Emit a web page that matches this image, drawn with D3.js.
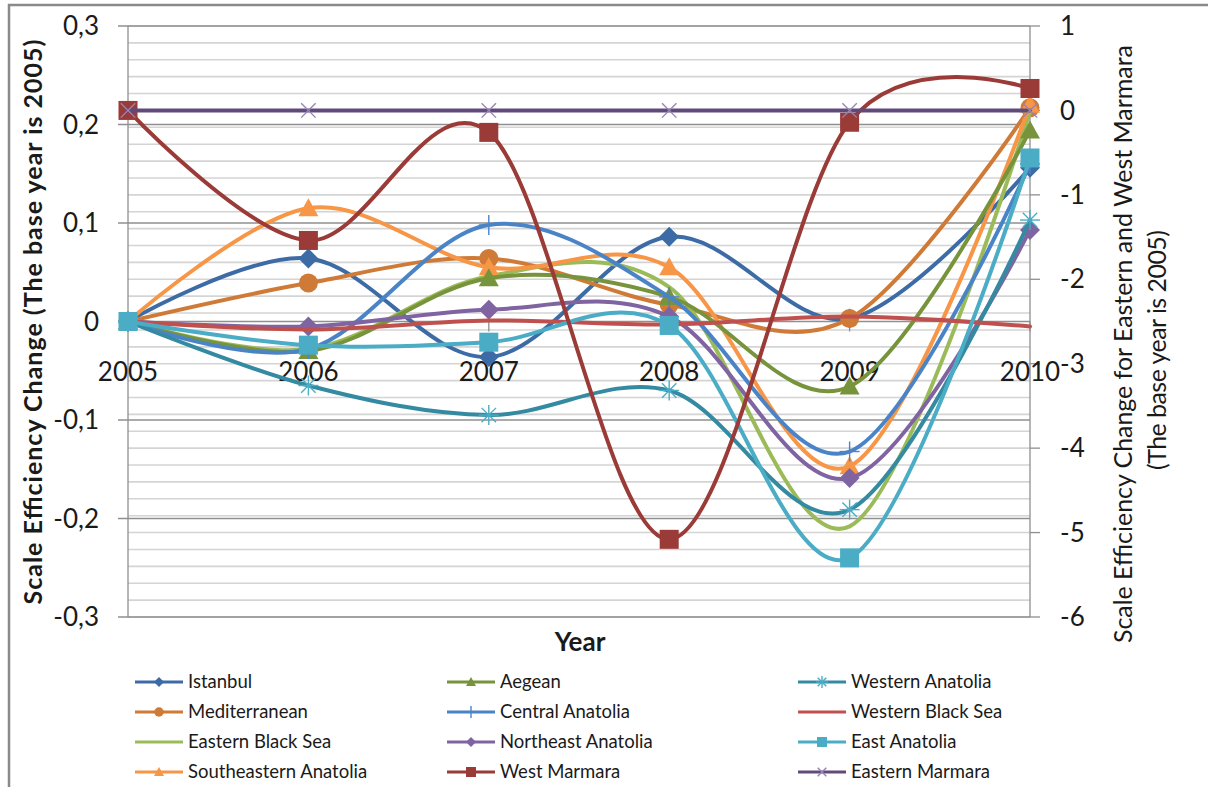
<!DOCTYPE html>
<html>
<head>
<meta charset="utf-8">
<script src="https://cdn.jsdelivr.net/npm/d3@7"></script>
<style>
  html, body { margin: 0; padding: 0; background: #fff; }
  svg { display: block; font-family: Lato, "Open Sans", sans-serif; }
</style>
</head>
<body>
<svg id="chart" width="1208" height="787"></svg>
<script>
// Years on the category axis
const years = ["2005", "2006", "2007", "2008", "2009", "2010"];

// Scale efficiency change per region (left axis)
const istanbul      = [0, 0.064, -0.036, 0.086, 0.003, 0.156];
const aegean        = [0, -0.030, 0.044, 0.025, -0.066, 0.194];
const westernAnat   = [0, -0.065, -0.095, -0.070, -0.191, 0.103];
const mediterranean = [0, 0.039, 0.064, 0.017, 0.003, 0.217];
const centralAnat   = [0, -0.028, 0.098, 0.025, -0.132, 0.160];
const westernBlack  = [0, -0.008, 0.001, -0.003, 0.005, -0.005];
const easternBlack  = [0, -0.028, 0.046, 0.035, -0.208, 0.213];
const northeastAnat = [0, -0.005, 0.012, 0.005, -0.159, 0.093];
const eastAnat      = [0, -0.024, -0.021, -0.004, -0.240, 0.166];
const southeastAnat = [0, 0.115, 0.055, 0.055, -0.147, 0.220];

// Marmara regions (right axis)
const westMarmara    = [0, -1.54, -0.26, -5.08, -0.14, 0.26];
const easternMarmara = [0, 0, 0, 0, 0, 0];

// Axis tick values and their labels
const leftTicks  = [-0.3, -0.2, -0.1, 0, 0.1, 0.2, 0.3];
const leftLabels = ["-0,3", "-0,2", "-0,1", "0", "0,1", "0,2", "0,3"];
const rightTicks = [-6, -5, -4, -3, -2, -1, 0, 1];

// Series definitions: name, values, axis, colour, marker
const series = [
  { name: "Istanbul",              values: istanbul,      axis: "L", color: "#3C6BA6", marker: "diamond" },
  { name: "Mediterranean",         values: mediterranean, axis: "L", color: "#CF7B37", marker: "circle" },
  { name: "Eastern Black Sea",     values: easternBlack,  axis: "L", color: "#9BBB59", marker: "none" },
  { name: "Southeastern Anatolia", values: southeastAnat, axis: "L", color: "#F79646", marker: "triangle" },
  { name: "Aegean",                values: aegean,        axis: "L", color: "#77933C", marker: "triangle" },
  { name: "Central Anatolia",      values: centralAnat,   axis: "L", color: "#4A84C6", marker: "plus", markerColor: "#4A84C6" },
  { name: "Northeast Anatolia",    values: northeastAnat, axis: "L", color: "#8064A2", marker: "diamond" },
  { name: "Western Anatolia",      values: westernAnat,   axis: "L", color: "#348AA1", marker: "asterisk", markerColor: "#4BACC6" },
  { name: "Western Black Sea",     values: westernBlack,  axis: "L", color: "#C0504D", marker: "none" },
  { name: "East Anatolia",         values: eastAnat,      axis: "L", color: "#4BACC6", marker: "square" },
  { name: "West Marmara",          values: westMarmara,   axis: "R", color: "#9A3B38", marker: "square" },
  { name: "Eastern Marmara",       values: easternMarmara,axis: "R", color: "#604A7B", marker: "x", markerColor: "#9585B5" }
];

// Legend layout: rows of three
const legendOrder = [
  "Istanbul", "Aegean", "Western Anatolia",
  "Mediterranean", "Central Anatolia", "Western Black Sea",
  "Eastern Black Sea", "Northeast Anatolia", "East Anatolia",
  "Southeastern Anatolia", "West Marmara", "Eastern Marmara"
];

const svg = d3.select("#chart");
const plot = { left: 128, right: 1030, top: 26, bottom: 617 };

const x  = d3.scalePoint().domain(years).range([plot.left, plot.right]);
const yL = d3.scaleLinear().domain([-0.3, 0.3]).range([plot.bottom, plot.top]);
const yR = d3.scaleLinear().domain([-6, 1]).range([plot.bottom, plot.top]);

// Chart border
svg.append("rect")
  .attr("x", 9).attr("y", 5).attr("width", 1260).attr("height", 820)
  .attr("fill", "none").attr("stroke", "#8a8a8a").attr("stroke-width", 2.5);

// Light gridlines from the right axis (every 0.2)
const minorR = d3.range(-6, 1.0001, 0.2).map(v => +v.toFixed(2));
svg.append("g").selectAll("line").data(minorR).join("line")
  .attr("x1", plot.left).attr("x2", plot.right)
  .attr("y1", d => yR(d)).attr("y2", d => yR(d))
  .attr("stroke", "#d4d4d4").attr("stroke-width", 1.6);

// Major gridlines from the left axis (every 0.1)
svg.append("g").selectAll("line").data(leftTicks).join("line")
  .attr("x1", plot.left - 10).attr("x2", plot.right)
  .attr("y1", d => yL(d)).attr("y2", d => yL(d))
  .attr("stroke", "#8f8f8f").attr("stroke-width", 1.3);

// Axis lines
svg.append("line").attr("x1", plot.left).attr("x2", plot.left)
  .attr("y1", plot.top).attr("y2", plot.bottom).attr("stroke", "#8f8f8f").attr("stroke-width", 1.3);
svg.append("line").attr("x1", plot.right).attr("x2", plot.right)
  .attr("y1", plot.top).attr("y2", plot.bottom).attr("stroke", "#8f8f8f").attr("stroke-width", 1.3);

// Right axis tick marks
svg.append("g").selectAll("line").data(rightTicks).join("line")
  .attr("x1", plot.right).attr("x2", plot.right + 10)
  .attr("y1", d => yR(d)).attr("y2", d => yR(d))
  .attr("stroke", "#8f8f8f").attr("stroke-width", 1.3);

// Category tick marks on the zero line
svg.append("g").selectAll("line").data(years).join("line")
  .attr("x1", d => x(d)).attr("x2", d => x(d))
  .attr("y1", yL(0)).attr("y2", yL(0) + 10)
  .attr("stroke", "#8f8f8f").attr("stroke-width", 1.3);

// Left axis labels
svg.append("g").selectAll("text").data(leftTicks).join("text")
  .attr("x", 99).attr("y", d => yL(d)).attr("dy", "0.35em")
  .attr("text-anchor", "end").attr("font-size", 26).attr("fill", "#1a1a1a")
  .text((d, i) => leftLabels[i]);

// Right axis labels
svg.append("g").selectAll("text").data(rightTicks).join("text")
  .attr("x", 1060).attr("y", d => yR(d)).attr("dy", "0.35em")
  .attr("text-anchor", "start").attr("font-size", 26).attr("fill", "#1a1a1a")
  .text(d => d3.format("d")(d).replace("−", "-"));

// Category labels
svg.append("g").selectAll("text").data(years).join("text")
  .attr("x", d => x(d)).attr("y", 372).attr("dy", "0.35em")
  .attr("text-anchor", "middle").attr("font-size", 26).attr("fill", "#1a1a1a")
  .text(d => d);

// Axis titles
svg.append("text")
  .attr("transform", "translate(33,322) rotate(-90)")
  .attr("text-anchor", "middle").attr("dy", "0.35em")
  .attr("font-size", 25).attr("font-weight", "bold").attr("fill", "#1a1a1a")
  .attr("textLength", 565).attr("lengthAdjust", "spacing")
  .text("Scale Efficiency Change (The base year is 2005)");

svg.append("text")
  .attr("transform", "translate(1123,344) rotate(-90)")
  .attr("text-anchor", "middle").attr("dy", "0.35em")
  .attr("font-size", 25).attr("fill", "#1a1a1a")
  .attr("textLength", 598).attr("lengthAdjust", "spacing")
  .text("Scale Efficiency Change for Eastern and West Marmara");
svg.append("text")
  .attr("transform", "translate(1157,350) rotate(-90)")
  .attr("text-anchor", "middle").attr("dy", "0.35em")
  .attr("font-size", 25).attr("fill", "#1a1a1a")
  .attr("textLength", 240).attr("lengthAdjust", "spacing")
  .text("(The base year is 2005)");

svg.append("text")
  .attr("x", 580).attr("y", 651)
  .attr("text-anchor", "middle")
  .attr("font-size", 26).attr("font-weight", "bold").attr("fill", "#1a1a1a")
  .text("Year");

// Marker drawing
function drawMarker(g, type, cx, cy, s, fill, stroke) {
  const h = s / 2;
  if (type === "diamond") {
    g.append("path").attr("d", `M${cx},${cy - h}L${cx + h},${cy}L${cx},${cy + h}L${cx - h},${cy}Z`)
      .attr("fill", fill);
  } else if (type === "circle") {
    g.append("circle").attr("cx", cx).attr("cy", cy).attr("r", h * 0.95).attr("fill", fill);
  } else if (type === "square") {
    g.append("rect").attr("x", cx - h).attr("y", cy - h).attr("width", s).attr("height", s).attr("fill", fill);
  } else if (type === "triangle") {
    g.append("path").attr("d", `M${cx},${cy - h}L${cx + h},${cy + h * 0.8}L${cx - h},${cy + h * 0.8}Z`)
      .attr("fill", fill);
  } else if (type === "plus" || type === "asterisk" || type === "x") {
    const segs = [];
    if (type !== "x") segs.push([0, -h, 0, h], [-h, 0, h, 0]);
    if (type !== "plus") {
      const d = h * 0.72;
      segs.push([-d, -d, d, d], [-d, d, d, -d]);
    }
    segs.forEach(sg => g.append("line")
      .attr("x1", cx + sg[0]).attr("y1", cy + sg[1]).attr("x2", cx + sg[2]).attr("y2", cy + sg[3])
      .attr("stroke", stroke).attr("stroke-width", 1.4));
  }
}

// Smoothed lines with markers
const curve = d3.curveCardinal.tension(0);
const plotG = svg.append("g");
series.forEach(s => {
  const yScale = s.axis === "L" ? yL : yR;
  const pts = s.values.map((v, i) => [x(years[i]), yScale(v)]);
  const g = plotG.append("g");
  g.append("path")
    .attr("d", d3.line().curve(curve)(pts))
    .attr("fill", "none").attr("stroke", s.color).attr("stroke-width", 4)
    .attr("stroke-linejoin", "round").attr("stroke-linecap", "round");
  if (s.marker !== "none") {
    pts.forEach(p => drawMarker(g, s.marker, p[0], p[1], s.marker === "square" ? 19 : 20, s.color, s.markerColor || s.color));
  }
});

// Legend
const legendCols = [135, 447, 798];
const legendRows = [682, 712, 742, 772];
const legend = svg.append("g");
legendOrder.forEach((name, i) => {
  const s = series.find(d => d.name === name);
  const lx = legendCols[i % 3], ly = legendRows[Math.floor(i / 3)];
  const g = legend.append("g");
  g.append("line").attr("x1", lx).attr("x2", lx + 48).attr("y1", ly).attr("y2", ly)
    .attr("stroke", s.color).attr("stroke-width", 3);
  if (s.marker !== "none") drawMarker(g, s.marker, lx + 24, ly, s.marker === "plus" || s.marker === "asterisk" || s.marker === "x" ? 12 : 10, s.color, s.markerColor || s.color);
  g.append("text").attr("x", lx + 53).attr("y", ly).attr("dy", "0.35em")
    .attr("font-size", 18.5).attr("fill", "#1a1a1a").text(name);
});
</script>
</body>
</html>
